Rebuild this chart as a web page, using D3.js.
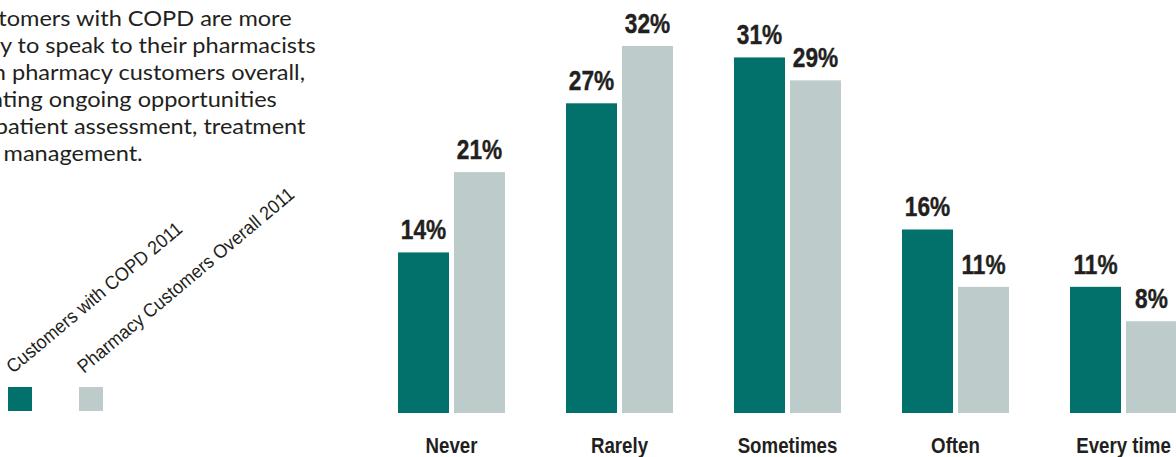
<!DOCTYPE html>
<html>
<head>
<meta charset="utf-8">
<script src="https://cdn.jsdelivr.net/npm/d3@7"></script>
<style>
  html, body { margin: 0; padding: 0; background: #fff; }
  svg { display: block; }
</style>
</head>
<body>
<div id="chart"></div>
<script>
const categories = ["Never", "Rarely", "Sometimes", "Often", "Every time"];
const seriesNames = ["Customers with COPD 2011", "Pharmacy Customers Overall 2011"];
const copd = [14, 27, 31, 16, 11];
const overall = [21, 32, 29, 11, 8];
const introLines = [
  "Customers with COPD are more",
  "likely to speak to their pharmacists",
  "than pharmacy customers overall,",
  "creating ongoing opportunities",
  "for patient assessment, treatment",
  "and management."
];

const width = 1176, height = 457;
const colors = ["#02706b", "#bdcbcb"];
const ink = "#231f20";
const sans = "'Liberation Sans', Arial, sans-serif";

const svg = d3.select("#chart").append("svg")
  .attr("width", width)
  .attr("height", height);

// intro paragraph - runs off the left edge like in the source
const intro = svg.append("g");
const introText = intro.selectAll("text")
  .data(introLines)
  .join("text")
    .attr("y", (d, i) => 26 + i * 27)
    .style("font-family", "Lato, 'Open Sans', sans-serif")
    .style("font-size", "21px")
    .style("fill", ink)
    .text(d => d);

// stretch a bit so the 2nd line ("y to speak ... pharmacists") spans ~0..316
const l2 = introText.nodes()[1];
const full = l2.getComputedTextLength();
const cut = l2.getSubStringLength(0, 5); // "likel"
const sx = 316 / (full - cut);
introText.attr("x", -cut);
intro.attr("transform", `scale(${sx},1)`);

// scales
const x0 = d3.scaleBand()
  .domain(categories)
  .range([398, 398 + 4 * 168 + 107])
  .paddingInner(61 / 168)
  .paddingOuter(0);

const x1 = d3.scaleBand()
  .domain(seriesNames)
  .range([0, x0.bandwidth()])
  .paddingInner(0.0893);

const y = d3.scaleLinear()
  .domain([0, 36])
  .range([413, 413 - 36 * 11.47]);

const rows = categories.map((c, i) => ({
  category: c,
  values: [
    { key: seriesNames[0], value: copd[i], idx: 0 },
    { key: seriesNames[1], value: overall[i], idx: 1 }
  ]
}));

const groups = svg.append("g").selectAll("g")
  .data(rows)
  .join("g")
    .attr("transform", d => `translate(${x0(d.category)},0)`);

groups.selectAll("rect")
  .data(d => d.values)
  .join("rect")
    .attr("x", d => x1(d.key))
    .attr("y", d => y(d.value))
    .attr("width", x1.bandwidth())
    .attr("height", d => y(0) - y(d.value))
    .attr("fill", d => colors[d.idx]);

// value labels, squeezed to look condensed
groups.selectAll("g.val")
  .data(d => d.values)
  .join("g")
    .attr("class", "val")
    .attr("transform", d => `translate(${x1(d.key) + x1.bandwidth() / 2},${y(d.value) - 13}) scale(0.84,1)`)
  .append("text")
    .attr("text-anchor", "middle")
    .style("font-family", sans)
    .style("font-weight", "bold")
    .style("font-size", "27px")
    .style("fill", ink)
    .style("stroke", ink)
    .style("stroke-width", "0.4px")
    .text(d => d.value + "%");

// category labels
const xAxis = svg.append("g")
  .attr("transform", `translate(0,${y(0)})`)
  .call(d3.axisBottom(x0).tickSize(0).tickPadding(40));
xAxis.select(".domain").remove();
xAxis.selectAll("text")
  .attr("dy", 0)
  .attr("transform", "scale(0.85,1)")
  .style("font-family", sans)
  .style("font-weight", "bold")
  .style("font-size", "22px")
  .style("fill", ink);

// legend
const legend = svg.append("g").selectAll("g")
  .data(seriesNames)
  .join("g")
    .attr("transform", (d, i) => `translate(${8 + i * 71},0)`);

legend.append("rect")
  .attr("y", 387)
  .attr("width", 24)
  .attr("height", 24)
  .attr("fill", (d, i) => colors[i]);

legend.append("text")
  .attr("transform", "translate(5,374) rotate(-40) scale(0.94,1)")
  .style("font-family", sans)
  .style("font-size", "19px")
  .style("fill", ink)
  .text(d => d);
</script>
</body>
</html>
